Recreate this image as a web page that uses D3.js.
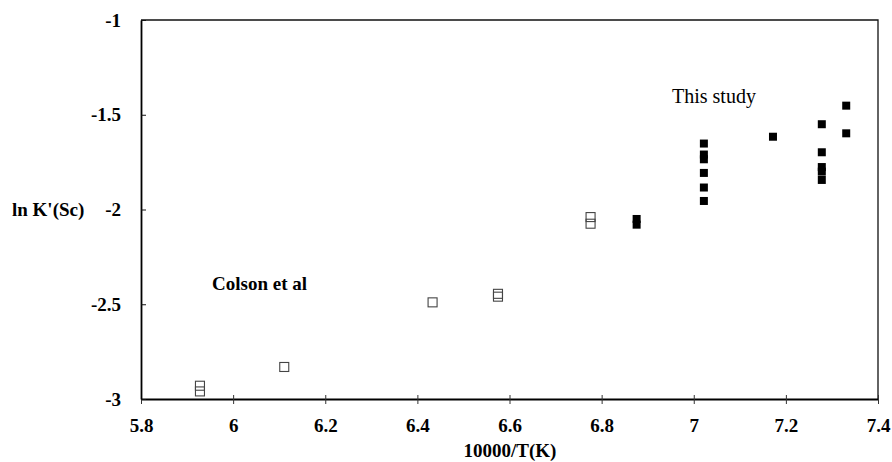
<!DOCTYPE html>
<html>
<head>
<meta charset="utf-8">
<script src="https://cdn.jsdelivr.net/npm/d3@7"></script>
<style>
  body { margin: 0; background: #fff; }
  svg { display: block; }
  text { font-family: "Liberation Serif", "Times New Roman", serif; }
</style>
</head>
<body>
<svg width="892" height="462"></svg>
<script>
// x ticks and y ticks
const xTicks = [5.8, 6, 6.2, 6.4, 6.6, 6.8, 7, 7.2, 7.4];
const yTicks = [-1, -1.5, -2, -2.5, -3];

// Colson et al (open squares)
const colsonX = [5.928, 5.928, 6.111, 6.433, 6.575, 6.575, 6.776, 6.776];
const colsonY = [-2.93, -2.96, -2.831, -2.49, -2.445, -2.46, -2.04, -2.075];

// This study (filled squares)
const studyX = [6.876, 6.876, 7.022, 7.022, 7.022, 7.022, 7.022, 7.022,
  7.172, 7.278, 7.278, 7.278, 7.278, 7.278, 7.331, 7.331];
const studyY = [-2.05, -2.08, -1.652, -1.71, -1.735, -1.807, -1.884, -1.955,
  -1.616, -1.55, -1.698, -1.776, -1.8, -1.844, -1.452, -1.598];

let svg = d3.select("svg");

let plotLeft = 141, plotRight = 878, plotTop = 20, plotBottom = 399;

let x = d3.scaleLinear().domain([5.8, 7.4]).range([plotLeft, plotRight]);
let y = d3.scaleLinear().domain([-3, -1]).range([plotBottom, plotTop]);

let fmt = (d) => String(+d.toFixed(1));

// frame: top and right
svg
  .append("path")
  .attr("d", `M${plotLeft},${plotTop}H${plotRight}V${plotBottom}`)
  .attr("fill", "none")
  .attr("stroke", "#111")
  .attr("stroke-width", 1.3);

// x axis
let xAxis = svg
  .append("g")
  .attr("transform", `translate(0,${plotBottom})`)
  .call(d3.axisBottom(x).tickValues(xTicks).tickFormat(fmt).tickSizeInner(5).tickSizeOuter(0).tickPadding(15));
xAxis.select(".domain").attr("stroke", "#000").attr("stroke-width", 1.8);
xAxis.selectAll(".tick line").attr("y1", -4).attr("stroke", "#333");
xAxis
  .selectAll(".tick text")
  .attr("font-size", "19px")
  .attr("font-weight", "bold")
  .attr("fill", "#000");

// y axis
let yAxis = svg
  .append("g")
  .attr("transform", `translate(${plotLeft},0)`)
  .call(d3.axisLeft(y).tickValues(yTicks).tickFormat(fmt).tickSizeInner(5).tickSizeOuter(0).tickPadding(15));
yAxis.select(".domain").attr("stroke", "#000").attr("stroke-width", 1.8);
yAxis.selectAll(".tick line").attr("x2", 5).attr("stroke", "#111");
yAxis
  .selectAll(".tick text")
  .attr("font-size", "19px")
  .attr("font-weight", "bold")
  .attr("fill", "#000");

// axis titles
svg
  .append("text")
  .attr("x", 510)
  .attr("y", 457)
  .attr("text-anchor", "middle")
  .attr("font-size", "19px")
  .attr("font-weight", "bold")
  .text("10000/T(K)");

svg
  .append("text")
  .attr("x", 12)
  .attr("y", 216)
  .attr("font-size", "19px")
  .attr("font-weight", "bold")
  .text("ln K'(Sc)");

// series labels
svg
  .append("text")
  .attr("x", 672)
  .attr("y", 103)
  .attr("font-size", "20px")
  .text("This study");

svg
  .append("text")
  .attr("x", 212)
  .attr("y", 290)
  .attr("font-size", "19px")
  .attr("font-weight", "bold")
  .text("Colson et al");

// markers
let s = 8;
svg
  .append("g")
  .selectAll("rect")
  .data(d3.range(colsonX.length))
  .join("rect")
  .attr("x", (i) => x(colsonX[i]) - (s + 1) / 2)
  .attr("y", (i) => y(colsonY[i]) - (s + 1) / 2)
  .attr("width", s + 1)
  .attr("height", s + 1)
  .attr("fill", "none")
  .attr("stroke", "#444")
  .attr("stroke-width", 1.1);

svg
  .append("g")
  .selectAll("rect")
  .data(d3.range(studyX.length))
  .join("rect")
  .attr("x", (i) => x(studyX[i]) - s / 2)
  .attr("y", (i) => y(studyY[i]) - s / 2)
  .attr("width", s)
  .attr("height", s)
  .attr("fill", "#000");
</script>
</body>
</html>
